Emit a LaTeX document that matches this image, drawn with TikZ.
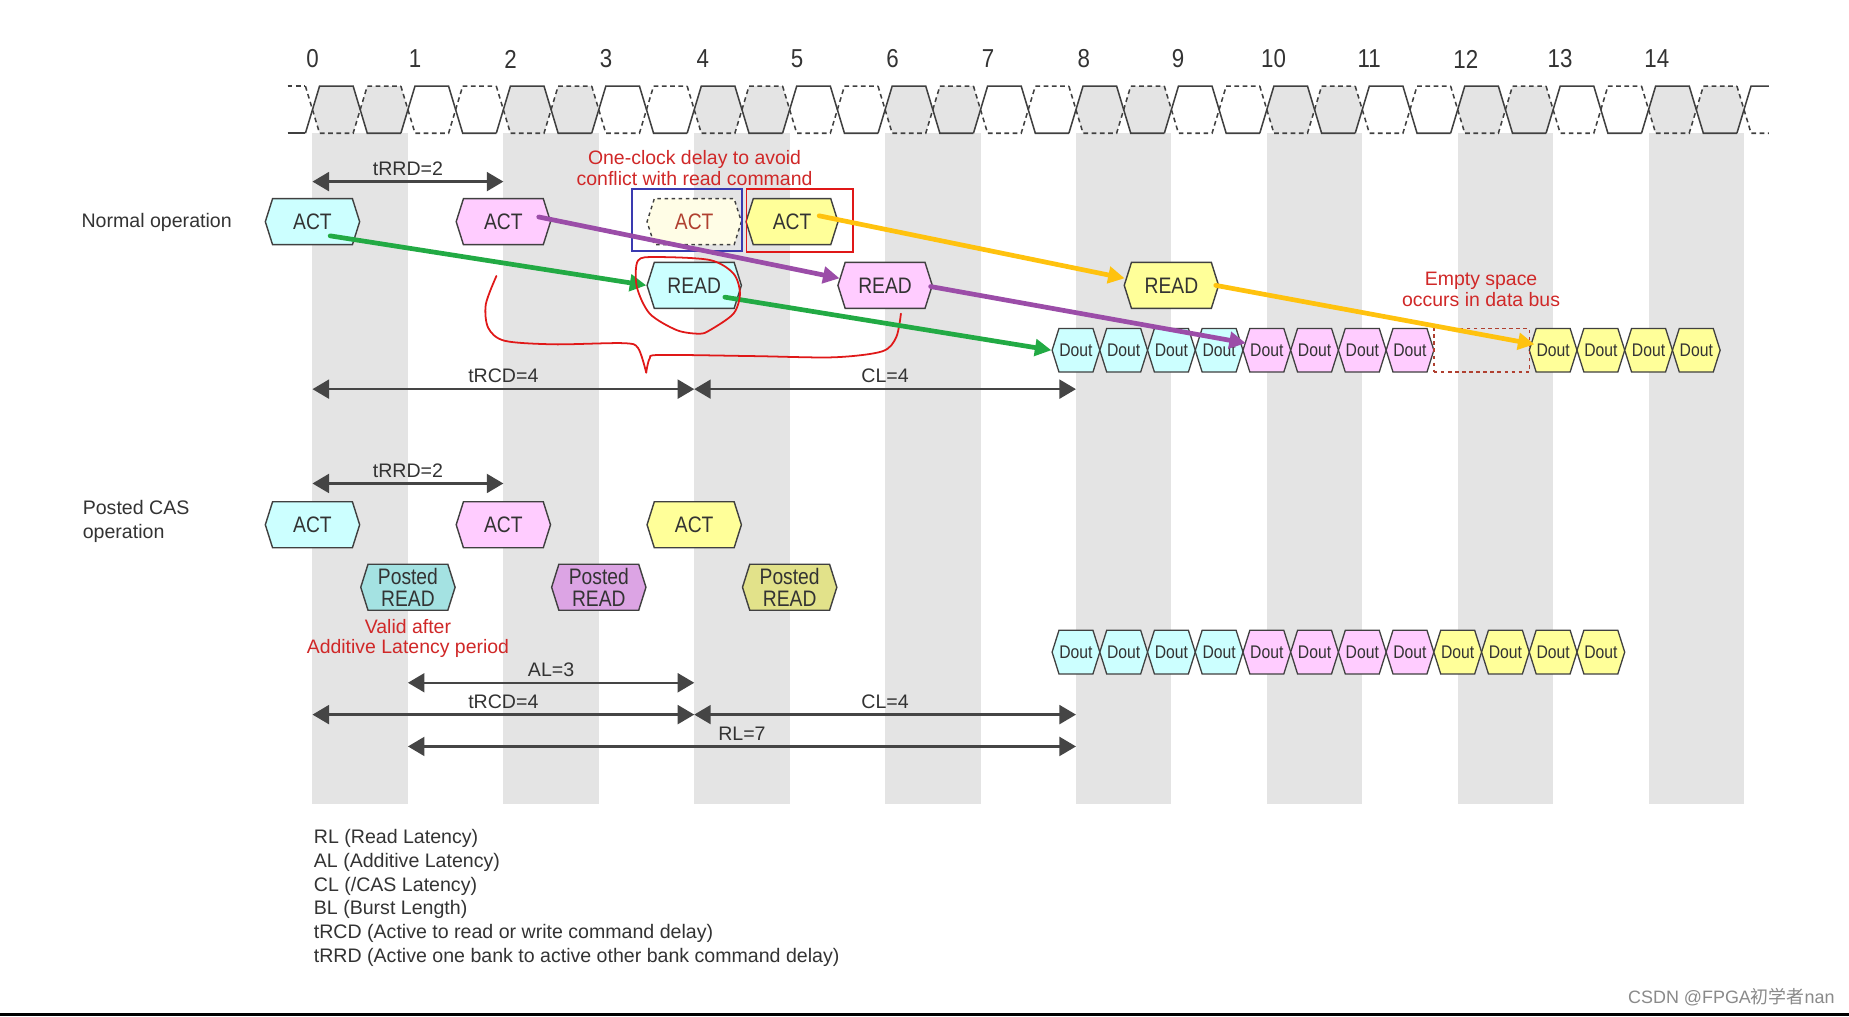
\documentclass[tikz,border=0pt]{standalone}
\usepackage{fontspec}
\setmainfont{Liberation Sans}
\newfontfamily\narrowfont[FakeStretch=0.86]{Liberation Sans}
\newfontfamily\cjkfont{Noto Sans CJK SC}
\usetikzlibrary{arrows.meta,shapes.symbols,calc}
\definecolor{stripe}{HTML}{E4E4E4}
\definecolor{linecol}{HTML}{404040}
\definecolor{textcol}{HTML}{333333}
\definecolor{cyanF}{HTML}{CCFFFF}
\definecolor{pinkF}{HTML}{FFCCFF}
\definecolor{yelF}{HTML}{FFFF99}
\definecolor{creamF}{HTML}{FFFDE6}
\definecolor{pcyan}{HTML}{A4E2E2}
\definecolor{ppurple}{HTML}{DCA4E4}
\definecolor{pyellow}{HTML}{E2E28A}
\definecolor{greenA}{HTML}{22AA44}
\definecolor{purpleA}{HTML}{9B4DA8}
\definecolor{yellowA}{HTML}{FFC20E}
\definecolor{redA}{HTML}{E01818}
\definecolor{redT}{HTML}{D02828}
\definecolor{brownred}{HTML}{B04030}
\definecolor{blueR}{HTML}{3A3AB0}
\definecolor{dimcol}{HTML}{454545}
\definecolor{wmgray}{HTML}{8A8A8A}
\begin{document}
\begin{tikzpicture}[x=1pt,y=-1pt,
  clk/.style={draw=linecol,line width=1.3pt},
  clkdash/.style={draw=linecol,line width=1.3pt,dash pattern=on 4pt off 3pt},
  clklab/.style={font=\narrowfont\fontsize{22}{24}\selectfont,text=textcol},
  cmd/.style={shape=signal,signal to=west and east,signal pointer angle=145,
    minimum width=80pt,minimum height=39pt,inner sep=0pt,draw=linecol,line width=1.2pt,
    font=\narrowfont\fontsize{19}{19}\selectfont,text=textcol,align=center},
  dout/.style={shape=signal,signal to=west and east,signal pointer angle=145,
    minimum width=40.47pt,minimum height=37pt,inner sep=0pt,draw=linecol,line width=1.1pt,
    font=\narrowfont\fontsize{15.5}{16}\selectfont,text=textcol},
  lab/.style={font=\fontsize{16.6}{20.2}\selectfont,text=textcol},
  redtxt/.style={font=\fontsize{16.5}{17.5}\selectfont,text=redT,align=center},
  dim/.style={draw=dimcol,line width=2pt,{Triangle[length=14pt,width=16pt]}-{Triangle[length=14pt,width=16pt]}},
  garrow/.style={draw=greenA,line width=4pt,line cap=round,-{Triangle[length=14pt,width=14pt]}},
  parrow/.style={draw=purpleA,line width=4pt,line cap=round,-{Triangle[length=14pt,width=14pt]}},
  yarrow/.style={draw=yellowA,line width=4pt,line cap=round,-{Triangle[length=14pt,width=14pt]}},
  annot/.style={draw=redA,line width=1.5pt,line cap=round,line join=round}
]
\def\xo{265}
\def\P{80.93}
\def\H{40.465}
\def\e{6}
\useasboundingbox (0,0) rectangle (1568,862);
\fill[white] (0,0) rectangle (1568,862);

% stripes and gray clock cells
\foreach \c in {0,2,...,14} {
  \pgfmathsetmacro\a{\xo+\P*\c}
  \fill[stripe] (\a,113) rectangle ({\a+\P},682);
  \foreach \h in {0,1} {
    \pgfmathsetmacro\s{\a+\H*\h}
    \fill[stripe] (\s,93) -- ({\s+\e},73) -- ({\s+\H-\e},73) -- ({\s+\H},93) -- ({\s+\H-\e},113) -- ({\s+\e},113) -- cycle;
  }
}

% clock waveform
\draw[clk] (244,113) -- ({\xo-\e},113);
\draw[clkdash] (244,73) -- ({\xo-\e},73);
\foreach \c in {0,...,14} {
  \pgfmathsetmacro\a{\xo+\P*\c}
  \draw[clk] ({\a-\e},113) -- ({\a+\e},73) -- ({\a+\H-\e},73) -- ({\a+\H+\e},113) -- ({\a+\P-\e},113);
  \draw[clkdash] ({\a-\e},73) -- ({\a+\e},113) -- ({\a+\H-\e},113) -- ({\a+\H+\e},73) -- ({\a+\P-\e},73);
}
\pgfmathsetmacro\xf{\xo+\P*15}
\draw[clk] ({\xf-\e},113) -- ({\xf+\e},73) -- (1500,73);
\draw[clkdash] ({\xf-\e},73) -- ({\xf+\e},113) -- (1500,113);

% clock labels
\foreach \c/\lx in {0/265,1/352,2/433,3/514,4/596,5/676,6/757,7/838,8/919,9/999,10/1080,11/1161,12/1243,13/1323,14/1405} {
  \node[clklab] (n\c) at (\lx,50) {\c};
}

% red hand-drawn brace
\draw[annot] plot[smooth] coordinates {(421,234) (412,258) (414,278) (428,289) (470,292) (528,291) (541,295) (548,316)};
\draw[annot] plot[smooth] coordinates {(548,316) (551,304) (560,301) (640,302) (707,303) (748,298) (760,286) (764,266)};

% labels on the left
\node[lab,anchor=west,inner sep=0pt] (nop) at (69,189) {Normal operation};
\node[lab,anchor=west,align=left,inner sep=0pt] (pcas) at (70,442) {Posted CAS\\operation};

% ---------- Normal operation ----------
\node[cmd,fill=cyanF] (actA) at ({\xo},188) {ACT};
\node[cmd,fill=pinkF] (actB) at ({\xo+\P*2},188) {ACT};
\node[cmd,fill=creamF,dashed,text=brownred] (actD) at ({\xo+\P*4},188) {ACT};
\node[cmd,fill=yelF,minimum width=78pt] (actC) at ({\xo+\P*5+2},188) {ACT};
\node[cmd,fill=cyanF] (rdA) at ({\xo+\P*4},242) {READ};
\node[cmd,fill=pinkF] (rdB) at ({\xo+\P*6},242) {READ};
\node[cmd,fill=yelF] (rdC) at ({\xo+\P*9},242) {READ};

\foreach \k/\col in {0/cyanF,1/cyanF,2/cyanF,3/cyanF,4/pinkF,5/pinkF,6/pinkF,7/pinkF,10/yelF,11/yelF,12/yelF,13/yelF} {
  \node[dout,fill=\col] (d\k) at ({\xo+\P*8+\H*\k},297) {Dout};
}
\node[draw=brownred,dashed,line width=1.2pt,minimum width=81pt,minimum height=37pt,inner sep=0pt] (empty) at ({\xo+\P*8+\H*8.5},297) {};
\node[redtxt] (emptytxt) at (1256,245.5) {Empty space\\occurs in data bus};
\node[redtxt] (delaytxt) at (589,142.5) {One-clock delay to avoid\\conflict with read command};

% boxes around ACT
\node[draw=blueR,line width=1.5pt,minimum width=93pt,minimum height=53pt,inner sep=0pt] (bluebox) at (582.5,186.5) {};
\node[draw=redA,line width=1.5pt,minimum width=90.5pt,minimum height=54pt,inner sep=0pt] (redbox) at (678.3,187) {};

% dimension arrows (normal)
\coordinate (r0) at ({\xo},154); \coordinate (r2) at ({\xo+\P*2},154);
\draw[dim] (r0) -- (r2) node[midway,lab,above=1pt] (lrrd1) {tRRD=2};
\coordinate (c0) at ({\xo},330); \coordinate (c4) at ({\xo+\P*4},330); \coordinate (c8) at ({\xo+\P*8},330);
\draw[dim] (c0) -- (c4) node[midway,lab,above=1pt] (lrcd1) {tRCD=4};
\draw[dim] (c4) -- (c8) node[midway,lab,above=1pt] (lcl1) {CL=4};

% colored arrows
\draw[garrow] ($(actA.center)+(15,12)$) -- (rdA.west);
\draw[garrow] ($(rdA.center)+(26,10)$) -- (d0.west);
\draw[parrow] ($(actB.center)+(30,-4)$) -- ($(rdB.west)+(2,-6)$);
\draw[parrow] ($(rdB.east)+(-2,1)$) -- ($(d4.west)+(3,-6)$);
\draw[yarrow] ($(actC.center)+(23,-5)$) -- ($(rdC.west)+(1,-6)$);
\draw[yarrow] ($(rdC.east)+(-3,0)$) -- ($(d10.west)+(5,-5)$);

% red hand-drawn loop around READ
\draw[annot] plot[smooth cycle] coordinates {(541,221) (557,218) (602,220.5) (622,232) (627.5,249) (622,266) (602,280) (593,283) (574,280) (551,266) (540,243)};

% ---------- Posted CAS operation ----------
\node[cmd,fill=cyanF] (pactA) at ({\xo},445) {ACT};
\node[cmd,fill=pinkF] (pactB) at ({\xo+\P*2},445) {ACT};
\node[cmd,fill=yelF] (pactC) at ({\xo+\P*4},445) {ACT};
\node[cmd,fill=pcyan] (prA) at ({\xo+\P},498) {Posted\\READ};
\node[cmd,fill=ppurple] (prB) at ({\xo+\P*3},498) {Posted\\READ};
\node[cmd,fill=pyellow] (prC) at ({\xo+\P*5},498) {Posted\\READ};
\node[redtxt] (validtxt) at ({\xo+\P},541.5) {Valid after\\Additive Latency period};

\foreach \k/\col in {0/cyanF,1/cyanF,2/cyanF,3/cyanF,4/pinkF,5/pinkF,6/pinkF,7/pinkF,8/yelF,9/yelF,10/yelF,11/yelF} {
  \node[dout,fill=\col] (p\k) at ({\xo+\P*8+\H*\k},553) {Dout};
}

\coordinate (q0) at ({\xo},410); \coordinate (q2) at ({\xo+\P*2},410);
\draw[dim] (q0) -- (q2) node[midway,lab,above=1pt] (lrrd2) {tRRD=2};
\coordinate (al1) at ({\xo+\P},579); \coordinate (al4) at ({\xo+\P*4},579);
\draw[dim] (al1) -- (al4) node[midway,lab,above=1pt] (lal) {AL=3};
\coordinate (e0) at ({\xo},606); \coordinate (e4) at ({\xo+\P*4},606); \coordinate (e8) at ({\xo+\P*8},606);
\draw[dim] (e0) -- (e4) node[midway,lab,above=1pt] (lrcd2) {tRCD=4};
\draw[dim] (e4) -- (e8) node[midway,lab,above=1pt] (lcl2) {CL=4};
\coordinate (rl1) at ({\xo+\P},633); \coordinate (rl8) at ({\xo+\P*8},633);
\draw[dim] (rl1) -- (rl8) node[midway,lab,above=1pt] (lrl) {RL=7};

% legend
\node[lab,anchor=north west,align=left,inner sep=0pt] (legend) at (266,703) {RL (Read Latency)\\AL (Additive Latency)\\CL (/CAS Latency)\\BL (Burst Length)\\tRCD (Active to read or write command delay)\\tRRD (Active one bank to active other bank command delay)};

% watermark and bottom bar
\node[anchor=east,text=wmgray,font=\fontsize{15.2}{16}\selectfont,inner sep=0pt] (wm) at (1556,846) {CSDN @FPGA{\cjkfont 初学者}nan};
\fill[black] (0,859) rectangle (1568,862);
\end{tikzpicture}
\end{document}
